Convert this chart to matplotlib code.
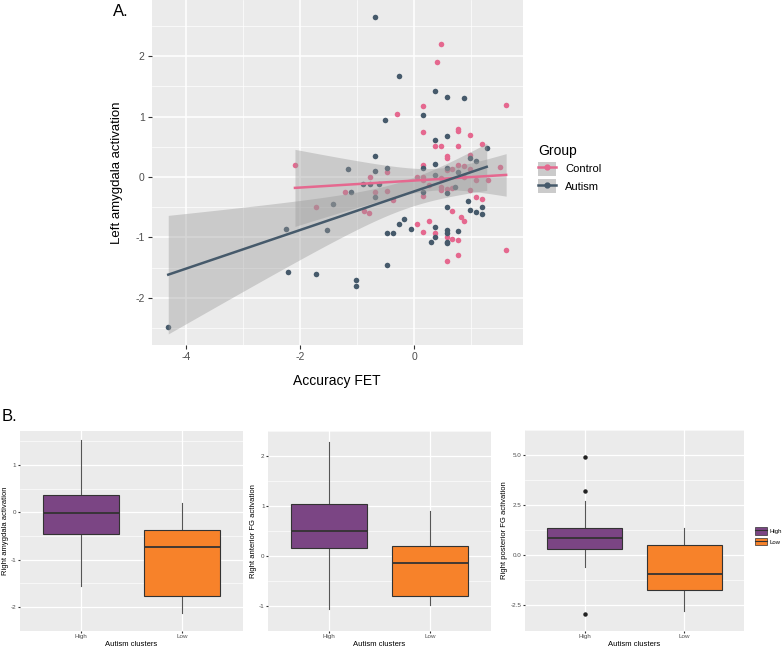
import numpy as np
import matplotlib
matplotlib.use("Agg")
import matplotlib.pyplot as plt
from matplotlib.lines import Line2D
from matplotlib.patches import Patch

plt.rcParams['font.family'] = ['Liberation Sans', 'DejaVu Sans']

# ---- panel A data: accuracy FET vs left amygdala activation ----
autism_x = [-0.68, -0.27, 0.36, 0.57, 0.88, -0.52, 0.15, 0.36, 0.57, 1.27,
            -0.68, 0.98, 1.09, -1.16, -0.47, 0.15, 0.36, 0.57, -0.68, 0.36,
            0.77, -0.89, -0.78, -0.61, -1.10, 0.15, 0.57, 0.72, -0.68, -1.43,
            0.95, 0.57, 0.98, 1.09, 1.19, 1.19, -2.24, -1.52, -0.18, -0.27,
            -0.06, -0.47, -0.38, 0.36, 0.36, 0.29, 0.57, 0.57, 0.57, 0.57,
            0.77, -2.22, -1.72, -1.02, -1.02, -0.47, -4.31]
autism_y = [2.65, 1.68, 1.43, 1.33, 1.31, 0.94, 1.03, 0.62, 0.68, 0.48,
            0.34, 0.31, 0.26, 0.14, 0.15, 0.15, 0.21, 0.15, 0.10, 0.04,
            0.08, -0.12, -0.12, -0.11, -0.24, -0.24, -0.27, -0.17, -0.33, -0.44,
            -0.40, -0.50, -0.55, -0.58, -0.49, -0.62, -0.86, -0.87, -0.69, -0.77,
            -0.86, -0.93, -0.92, -0.83, -1.00, -1.08, -0.88, -0.92, -1.07, -1.10,
            -0.89, -1.57, -1.60, -1.70, -1.81, -1.46, -2.49]

control_x = [0.46, 0.40, 1.61, 0.15, -0.31, 0.15, 0.77, 0.77, 0.98, 0.36,
             0.46, 0.77, 1.19, 0.57, 0.57, 0.98, -2.09, 0.15, 0.77, 0.87,
             1.51, 0.67, 0.57, 0.98, -0.78, 0.04, 0.15, -0.47, 0.15, 0.46,
             0.87, 1.09, 1.30, 0.25, 0.46, 0.46, 0.57, 0.67, 0.98, -1.21,
             -0.68, -0.47, 0.15, -0.38, 1.09, 1.19, -1.73, -0.88, -0.80, 0.67,
             0.82, 0.87, 0.04, 0.25, 0.15, 0.36, 0.57, 0.67, 0.77, 1.61,
             0.77, 0.57]
control_y = [2.20, 1.91, 1.20, 1.18, 1.05, 0.75, 0.79, 0.76, 0.70, 0.51,
             0.51, 0.51, 0.54, 0.34, 0.31, 0.36, 0.20, 0.20, 0.20, 0.19,
             0.16, 0.13, 0.11, 0.14, 0.00, 0.00, 0.00, 0.08, -0.05, -0.02,
             0.00, -0.05, -0.05, -0.13, -0.21, -0.17, -0.19, -0.18, -0.21, -0.25,
             -0.24, -0.23, -0.31, -0.38, -0.33, -0.36, -0.49, -0.57, -0.59, -0.57,
             -0.66, -0.73, -0.77, -0.72, -0.91, -0.93, -1.00, -1.03, -1.04, -1.20,
             -1.29, -1.39]

group_names = ['Control', 'Autism']
group_colors = ['#e5688f', '#465a6b']

# ---- panel B data: box plot summaries per autism cluster ----
clusters = ['High', 'Low']
cluster_colors = ['#7b4584', '#f7822a']
box_titles = ['Right amygdala activation', 'Right anterior FG activation',
              'Right posterior FG activation']
# whislo, q1, median, q3, whishi for High and Low
box_stats = [
    [[-1.56, -0.45, -0.02, 0.37, 1.54], [-2.12, -1.76, -0.73, -0.38, 0.19]],
    [[-1.06, 0.15, 0.50, 1.04, 2.27], [-0.98, -0.81, -0.14, 0.20, 0.90]],
    [[-0.57, 0.32, 0.84, 1.38, 2.72], [-2.80, -1.72, -0.94, 0.49, 1.37]],
]
box_outliers = [
    [[], []],
    [[], []],
    [[4.90, 3.21, -2.92], []],
]
box_ylims = [(-2.30, 1.72), (-1.23, 2.44), (-3.26, 5.29)]
box_yticks = [[-2, -1, 0, 1], [-1, 0, 1, 2], [-2.5, 0.0, 2.5, 5.0]]
box_yticklabels = [['-2', '-1', '0', '1'], ['-1', '0', '1', '2'],
                   ['-2.5', '0.0', '2.5', '5.0']]

T975 = 2.0
BG = '#ebebeb'


def gg_axes(ax):
    ax.set_facecolor(BG)
    for s in ax.spines.values():
        s.set_visible(False)
    ax.set_axisbelow(True)


def lm_band(x, y, n_pts=80):
    x = np.asarray(x)
    y = np.asarray(y)
    b, a = np.polyfit(x, y, 1)
    xs = np.linspace(x.min(), x.max(), n_pts)
    resid = y - (a + b * x)
    n = len(x)
    s = np.sqrt(np.sum(resid ** 2) / (n - 2))
    sxx = np.sum((x - x.mean()) ** 2)
    se = s * np.sqrt(1.0 / n + (xs - x.mean()) ** 2 / sxx)
    fit = a + b * xs
    return xs, fit, fit - T975 * se, fit + T975 * se


fig = plt.figure(figsize=(7.84, 6.49), dpi=100)

# ---------------- panel A ----------------
axA = fig.add_axes([0.1935, 0.4684, 0.4732, 0.5316])
gg_axes(axA)
axA.set_xlim(-4.6, 1.9)
axA.set_ylim(-2.78, 2.93)
axA.set_xticks([-4, -2, 0])
axA.set_xticklabels(['-4', '-2', '0'])
axA.set_yticks([-2, -1, 0, 1, 2])
axA.set_yticklabels(['-2', '-1', '0', '1', '2'])
axA.set_xticks([-3, -1, 1], minor=True)
axA.set_yticks([-2.5, -1.5, -0.5, 0.5, 1.5, 2.5], minor=True)
axA.grid(which='major', color='white', lw=1.1)
axA.grid(which='minor', color='white', lw=0.5)
axA.tick_params(which='major', length=3, color='#333333', labelsize=7.5,
                labelcolor='#4d4d4d', pad=2)
axA.tick_params(which='minor', length=0)

for gx, gy, col in [(control_x, control_y, group_colors[0]),
                    (autism_x, autism_y, group_colors[1])]:
    axA.scatter(gx, gy, s=16, color=col, zorder=3, linewidths=0)

for gx, gy, col in [(control_x, control_y, group_colors[0]),
                    (autism_x, autism_y, group_colors[1])]:
    xs, fit, lo, hi = lm_band(gx, gy)
    axA.fill_between(xs, lo, hi, color='#999999', alpha=0.4, lw=0, zorder=4)
    axA.plot(xs, fit, color=col, lw=1.8, zorder=5)

axA.set_xlabel('Accuracy FET', fontsize=10, color='black', labelpad=9)
axA.set_ylabel('Left amygdala activation', fontsize=9.5, color='black', labelpad=9)
fig.text(0.144, 0.982, 'A.', fontsize=12, va='center', ha='left')

handles = [(Patch(facecolor='#cbcbcb', edgecolor='none'),
            Line2D([], [], color=c, lw=1.8, marker='o', markersize=3.5))
           for c in group_colors]
leg = axA.legend(handles, group_names, title='Group', loc='upper left',
                 bbox_to_anchor=(1.03, 0.595), frameon=False, fontsize=8,
                 title_fontsize=10, handlelength=1.6, handleheight=1.6,
                 labelspacing=0.3, handletextpad=0.8, borderaxespad=0,
                 alignment='left')

# ---------------- panel B ----------------
posB = [[0.0255, 0.0285, 0.2844, 0.3074],
        [0.3422, 0.0285, 0.2840, 0.3074],
        [0.6696, 0.0285, 0.2797, 0.3090]]
for k in range(3):
    ax = fig.add_axes(posB[k])
    gg_axes(ax)
    stats = []
    for j in range(2):
        lo, q1, med, q3, hi = box_stats[k][j]
        stats.append(dict(whislo=lo, q1=q1, med=med, q3=q3, whishi=hi,
                          fliers=box_outliers[k][j], label=clusters[j]))
    bp = ax.bxp(stats, positions=[1, 2], widths=0.75, patch_artist=True,
                showcaps=False,
                boxprops=dict(edgecolor='#333333', linewidth=0.8),
                medianprops=dict(color='#333333', linewidth=1.3, zorder=5),
                whiskerprops=dict(color='#555555', linewidth=0.8),
                flierprops=dict(marker='o', markersize=2.2,
                                markerfacecolor='#222222',
                                markeredgecolor='#222222'))
    for patch, col in zip(bp['boxes'], cluster_colors):
        patch.set_facecolor(col)
        patch.set_zorder(3)
    ax.set_xlim(0.4, 2.6)
    ax.set_ylim(*box_ylims[k])
    ax.set_xticks([1, 2])
    ax.set_xticklabels(clusters)
    ax.set_yticks(box_yticks[k])
    ax.set_yticklabels(box_yticklabels[k])
    yt = box_yticks[k]
    step = yt[1] - yt[0]
    ax.set_yticks([t - step / 2 for t in yt] + [yt[-1] + step / 2], minor=True)
    ax.grid(which='major', color='white', lw=0.9)
    ax.grid(which='minor', axis='y', color='white', lw=0.45)
    ax.tick_params(which='major', length=1.5, color='#333333', labelsize=4.5,
                   labelcolor='#4d4d4d', pad=1.2)
    ax.tick_params(which='minor', length=0)
    ax.set_xlabel('Autism clusters', fontsize=5.5, labelpad=1.5)
    ax.set_ylabel(box_titles[k], fontsize=5.5, labelpad=1.5)
    if k == 2:
        hb = [(Patch(facecolor=c, edgecolor='#333333', linewidth=0.5),
               Line2D([], [], color='#333333', lw=0.8))
              for c in cluster_colors]
        ax.legend(hb, clusters, loc='center left', bbox_to_anchor=(1.04, 0.47),
                  frameon=False, fontsize=4.3, handlelength=2.0, handleheight=1.6,
                  labelspacing=0.5, handletextpad=0.4, borderaxespad=0)

fig.text(0.002, 0.358, 'B.', fontsize=12, va='center', ha='left')

fig.savefig('out.png', dpi=100)
